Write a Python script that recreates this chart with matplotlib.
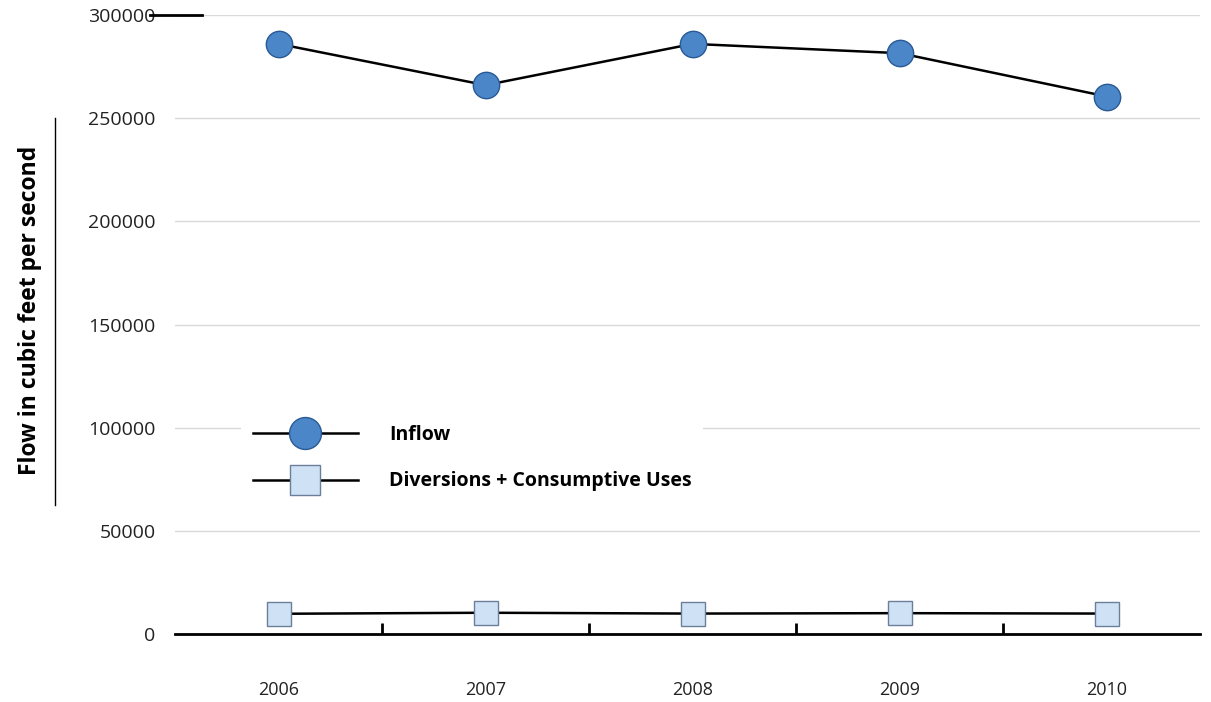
import matplotlib
matplotlib.use("Agg")
import matplotlib.pyplot as plt
from matplotlib.lines import Line2D

plt.rcParams['font.family'] = ['Open Sans', 'DejaVu Sans']

years = ["2006", "2007", "2008", "2009", "2010"]
inflow = [286000, 266000, 286000, 281500, 260500]
diversions = [9800, 10300, 9900, 10100, 9900]

fig = plt.figure(figsize=(12.11, 7.02), dpi=100)
ax = fig.add_axes([175/1211, 1-634/702, (1200-175)/1211, (634-15)/702])
x = list(range(len(years)))
ax.set_xlim(-0.5, 4.45)
ax.set_ylim(0, 300000)
ax.set_yticks(range(0, 300001, 50000))
ax.set_yticklabels([str(v) for v in range(0, 300001, 50000)], fontsize=14, color="#222")
ax.grid(axis="y", color="#d9d9d9", lw=1)
ax.set_axisbelow(True)
for s in ["top", "right"]:
    ax.spines[s].set_visible(False)
ax.spines["left"].set_visible(False)
ax.spines["bottom"].set_linewidth(2)
ax.tick_params(axis="y", length=0, pad=14)
ax.set_xticks([i + 0.5 for i in range(4)])
ax.set_xticklabels([])
ax.tick_params(axis="x", length=8, width=2, direction="in")
for i, y in enumerate(years):
    ax.text(i, -0.09, y, transform=ax.get_xaxis_transform(), ha="center", va="center", fontsize=13, color="#222")
ax.plot([-0.62, -0.37], [300000, 300000], color="black", lw=2, clip_on=False)

ax.plot(x, inflow, color="black", lw=1.8, marker="o", ms=19, mfc="#4a86c8", mec="#2a5a95", mew=1, zorder=3)
ax.plot(x, diversions, color="black", lw=1.8, marker="s", ms=17, mfc="#cfe2f5", mec="#6a7f99", mew=1, zorder=3)

fig.text(30/1211, 1-310/702, "Flow in cubic feet per second", rotation=90, ha="center", va="center", fontsize=16.5, fontweight="bold")
fig.add_artist(Line2D([55/1211, 55/1211], [1-505/702, 1-118/702], color="black", lw=1))

h1 = Line2D([], [], color="black", lw=1.8, marker="o", ms=23, mfc="#4a86c8", mec="#2a5a95")
h2 = Line2D([], [], color="black", lw=1.8, marker="s", ms=22, mfc="#cfe2f5", mec="#6a7f99")
leg = ax.legend([h1, h2], ["Inflow", "Diversions + Consumptive Uses"], loc="upper left",
                bbox_to_anchor=(0.055, 0.372), frameon=True, edgecolor="none", facecolor="white",
                framealpha=1, prop={"weight": "bold", "size": 14}, handlelength=5.4,
                labelspacing=1.35, handletextpad=1.6, borderpad=0.6)
fig.savefig("out.png", dpi=100, facecolor="white")
